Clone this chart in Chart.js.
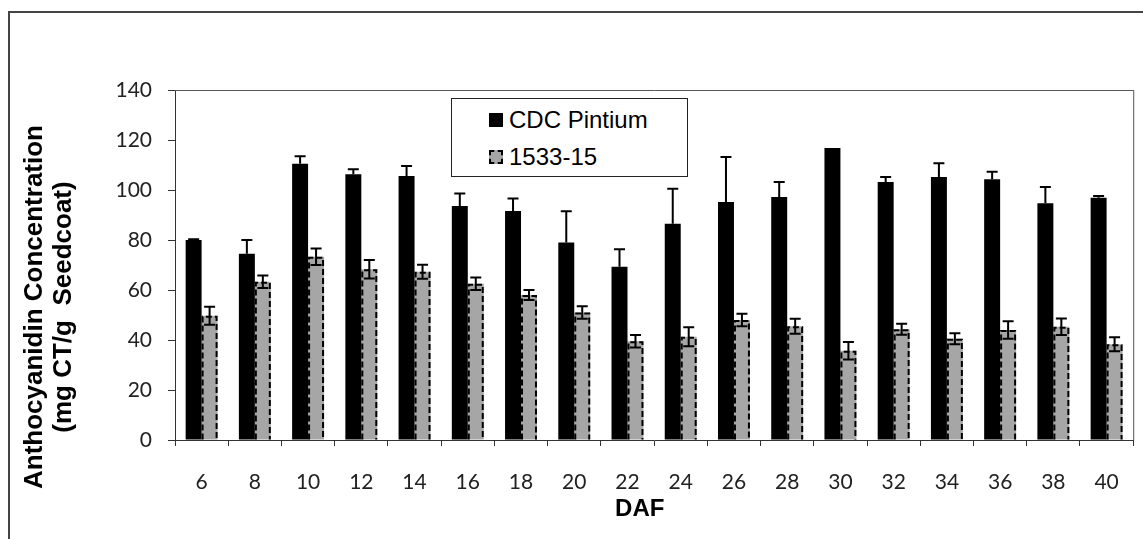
<!DOCTYPE html>
<html>
<head>
<meta charset="utf-8">
<script src="https://cdn.jsdelivr.net/npm/chart.js@4/dist/chart.umd.min.js"></script>
<style>
  html, body { margin:0; padding:0; background:#fff; overflow:hidden; }
  #wrap { position:relative; width:1143px; height:539px; }
  #frame { position:absolute; left:8px; top:11px; width:1200px; height:600px;
           border-left:2px solid #444; border-top:2px solid #444; }
  #c { position:absolute; left:0; top:0; }
  #legend { position:absolute; left:451px; top:98px; width:235px; height:77px;
            border:1px solid #222; background:#fff; font-family:"Liberation Sans", Arial, sans-serif;
            font-size:24px; color:#000; }
  .item { position:absolute; left:37px; display:flex; align-items:center; height:28px; white-space:nowrap; }
  .sw { width:14px; height:14px; margin-right:6px; box-sizing:border-box; }
</style>
</head>
<body>
<div id="wrap">
  <div id="frame"></div>
  <canvas id="c" width="1143" height="539"></canvas>
  <div id="legend"></div>
</div>
<script>
// DAF (days after flowering)
const daf = ["6","8","10","12","14","16","18","20","22","24","26","28","30","32","34","36","38","40"];

// CDC Pintium, mg CT/g seedcoat, with standard error
const pintium    = [80, 74.5, 110.5, 106.3, 105.6, 93.6, 91.6, 79, 69.3, 86.5, 95.2, 97.2, 116.8, 103.2, 105.2, 104.3, 94.7, 96.9];
const pintiumErr = [0.3, 5.5, 3, 2, 4, 5, 5, 12.5, 7, 14, 18, 6, 0, 2, 5.5, 3, 6.5, 0.7];

// 1533-15
const line1533    = [49.7, 63.3, 73.3, 68.3, 67.3, 62.5, 58, 51, 39.5, 41.3, 48, 45.5, 35.7, 44.3, 40.5, 44, 45.3, 38.3];
const line1533Err = [3.6, 2.5, 3.3, 3.7, 2.8, 2.5, 2, 2.5, 2.5, 3.8, 2.5, 3, 3.5, 2.2, 2.2, 3.5, 3.3, 2.8];

const yTicks = { min:0, max:140, step:20 };

const xTitle = "DAF";
const yTitle = ["Anthocyanidin Concentration", "(mg CT/g  Seedcoat)"];

const GREY = "#a6a6a6";

// dashed outline on the grey bars + error bars
const barExtras = {
  id: "barExtras",
  afterDatasetsDraw(chart){
    const ctx = chart.ctx, y = chart.scales.y;
    chart.data.datasets.forEach((ds, i) => {
      const meta = chart.getDatasetMeta(i);
      meta.data.forEach((bar, j) => {
        const half = bar.width/2;
        if (ds.dashed){
          ctx.save();
          ctx.strokeStyle = "#000"; ctx.lineWidth = 2; ctx.setLineDash([6,3]);
          ctx.beginPath();
          ctx.moveTo(bar.x-half+1, bar.base); ctx.lineTo(bar.x-half+1, bar.y+1);
          ctx.lineTo(bar.x+half-1, bar.y+1); ctx.lineTo(bar.x+half-1, bar.base);
          ctx.stroke();
          ctx.restore();
        }
        const v = ds.data[j], e = ds.err[j];
        if (!e) return;
        const top = y.getPixelForValue(v+e);
        const bot = ds.errBoth ? y.getPixelForValue(v-e) : bar.y;
        ctx.save();
        ctx.strokeStyle = "#000"; ctx.lineWidth = 2;
        ctx.beginPath();
        ctx.moveTo(bar.x, bot); ctx.lineTo(bar.x, top);
        ctx.moveTo(bar.x-5.5, top); ctx.lineTo(bar.x+5.5, top);
        if (ds.errBoth){ ctx.moveTo(bar.x-5.5, bot); ctx.lineTo(bar.x+5.5, bot); }
        ctx.stroke();
        ctx.restore();
      });
    });
  }
};

// plot-area edge (top, right) and the axis titles, which sit a bit off-centre
const frameAndTitles = {
  id: "frameAndTitles",
  afterDraw(chart){
    const {ctx, chartArea:a} = chart;
    ctx.save();
    ctx.strokeStyle = "#555"; ctx.lineWidth = 1;
    ctx.beginPath();
    ctx.moveTo(a.left, a.top+0.5); ctx.lineTo(a.right+0.5, a.top+0.5); ctx.lineTo(a.right+0.5, a.bottom);
    ctx.stroke();

    ctx.fillStyle = "#000";
    ctx.textAlign = "center";
    ctx.textBaseline = "alphabetic";
    ctx.font = "bold 24px 'Liberation Sans', Arial, sans-serif";
    ctx.fillText(xTitle, a.left + (a.right-a.left)*0.485, 516);

    ctx.font = "bold 26px 'Liberation Sans', Arial, sans-serif";
    ctx.translate(42, 307);
    ctx.rotate(-Math.PI/2);
    yTitle.forEach((t, k) => ctx.fillText(t, 0, k*29));
    ctx.restore();
  }
};

const datasets = [
  { label:"CDC Pintium", data:pintium, err:pintiumErr, errBoth:false, backgroundColor:"#000" },
  { label:"1533-15", data:line1533, err:line1533Err, errBoth:true, dashed:true, backgroundColor:GREY }
];

new Chart(document.getElementById("c"), {
  type: "bar",
  data: { labels: daf, datasets },
  options: {
    responsive:false, animation:false, devicePixelRatio:1,
    layout: { padding:{ top:90, right:8, left:0, bottom:0 } },
    datasets: { bar: { barPercentage:1, categoryPercentage:0.6, borderWidth:0 } },
    plugins: { legend:{ display:false }, tooltip:{ enabled:false } },
    scales: {
      x: {
        afterFit(s){ s.height = 99; },
        grid: { offset:true, drawOnChartArea:false, drawTicks:true, tickLength:6, tickColor:"#333" },
        border: { color:"#333", width:1 },
        ticks: { color:"#222", padding:24, font:{ family:"Lato", size:21 } }
      },
      y: {
        min:yTicks.min, max:yTicks.max,
        afterFit(s){ s.width = 175; },
        grid: { drawOnChartArea:false, drawTicks:true, tickLength:7, tickColor:"#333" },
        border: { color:"#333", width:1 },
        ticks: { stepSize:yTicks.step, color:"#222", padding:16, font:{ family:"Lato", size:21 } }
      }
    }
  },
  plugins: [barExtras, frameAndTitles]
});

// legend box, built from the datasets
const lg = document.getElementById("legend");
datasets.forEach((ds, i) => {
  const it = document.createElement("div");
  it.className = "item";
  it.style.top = (7 + i*37) + "px";
  const sw = document.createElement("span");
  sw.className = "sw";
  sw.style.background = ds.backgroundColor;
  if (ds.dashed) sw.style.border = "2px dashed #000";
  it.appendChild(sw);
  it.appendChild(document.createTextNode(ds.label));
  lg.appendChild(it);
});
</script>
</body>
</html>
